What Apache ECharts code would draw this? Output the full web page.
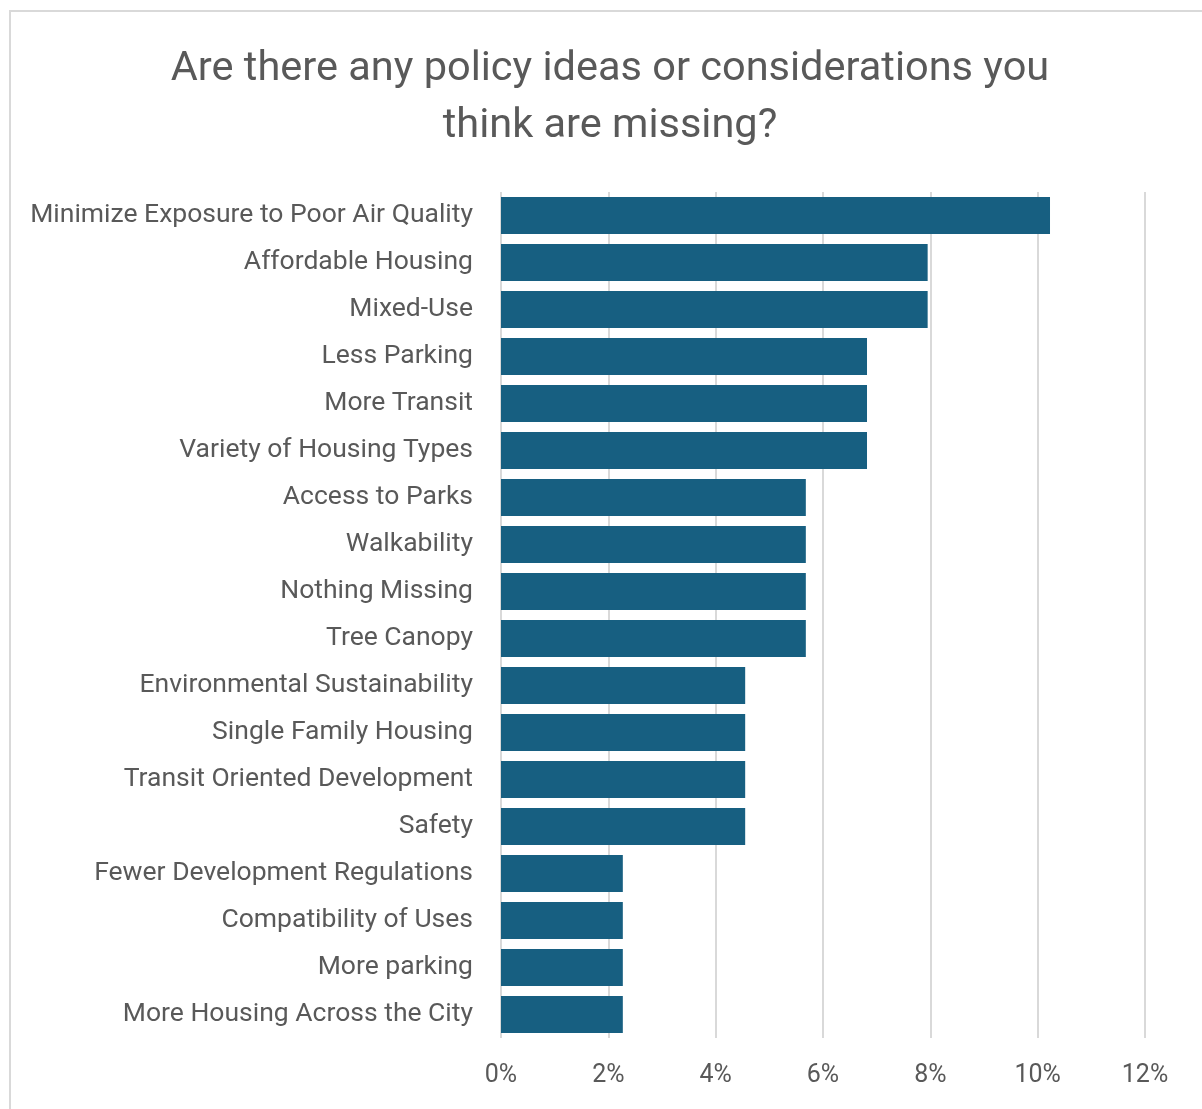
<!DOCTYPE html>
<html>
<head>
<meta charset="utf-8">
<script src="https://cdn.jsdelivr.net/npm/echarts@6/dist/echarts.min.js"></script>
<style>
  html, body { margin: 0; padding: 0; background: #fff; }
  #chart { width: 1202px; height: 1109px; }
</style>
</head>
<body>
<div id="chart"></div>
<script>
// 分类（从上到下）
const categories = [
  'Minimize Exposure to Poor Air Quality',
  'Affordable Housing',
  'Mixed-Use',
  'Less Parking',
  'More Transit',
  'Variety of Housing Types',
  'Access to Parks',
  'Walkability',
  'Nothing Missing',
  'Tree Canopy',
  'Environmental Sustainability',
  'Single Family Housing',
  'Transit Oriented Development',
  'Safety',
  'Fewer Development Regulations',
  'Compatibility of Uses',
  'More parking',
  'More Housing Across the City'
]
// 百分比
const percents = [10.23, 7.95, 7.95, 6.82, 6.82, 6.82, 5.68, 5.68, 5.68, 5.68,
  4.55, 4.55, 4.55, 4.55, 2.27, 2.27, 2.27, 2.27]

const myChart = echarts.init(document.getElementById('chart'))
const font = 'Roboto, "Noto Sans", sans-serif'
const option = {
  animation: false,
  backgroundColor: '#fff',
  textStyle: { fontFamily: font },
  //外框
  graphic: [{
    type: 'rect',
    shape: { x: 10, y: 11, width: 1300, height: 1200 },
    style: { fill: 'none', stroke: '#d9d9d9', lineWidth: 2 },
    silent: true
  }],
  title: {
    text: 'Are there any policy ideas or considerations you\nthink are missing?',
    left: 605,
    textAlign: 'center',
    top: 36,
    textStyle: {
      fontFamily: font,
      fontSize: 41.5,
      fontWeight: 'normal',
      color: '#595959',
      lineHeight: 57
    }
  },
  grid: {
    left: 501,
    right: 57,
    top: 192,
    bottom: 71,
    containLabel: false
  },
  xAxis: {
    type: 'value',
    min: 0,
    max: 12,
    interval: 2,
    axisLine: { show: false },
    axisTick: { show: false },
    axisLabel: {
      formatter: '{value}%',
      color: '#595959',
      fontSize: 25,
      margin: 25,
      fontFamily: font
    },
    splitLine: {
      lineStyle: { color: '#d9d9d9', width: 2 }
    }
  },
  yAxis: {
    type: 'category',
    inverse: true,
    data: categories,
    axisLine: { show: false },
    axisTick: { show: false },
    axisLabel: {
      color: '#595959',
      fontSize: 26.5,
      margin: 28,
      fontFamily: font
    }
  },
  series: [{
    type: 'bar',
    data: percents,
    barCategoryGap: '21%',
    itemStyle: { color: '#175f81' }
  }]
}
myChart.setOption(option)
</script>
</body>
</html>
